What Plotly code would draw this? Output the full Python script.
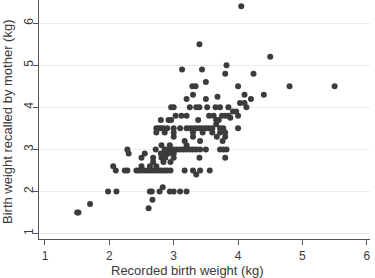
import plotly.graph_objects as go

# Rows of points grouped by recalled weight (kg)
rows_y = [6.4, 5.5, 5.2, 5.0, 4.9, 4.8, 4.6, 4.5, 4.3, 4.25, 4.2, 4.1, 4.0, 3.9, 3.8, 3.75, 3.7, 3.6,
          3.5, 3.4, 3.3, 3.2, 3.1, 3.0, 2.9, 2.8, 2.7, 2.6, 2.5, 2.4, 2.1, 2.0, 1.8, 1.7, 1.6, 1.5]
rows_x = [
    [4.05],
    [3.4],
    [4.5],
    [3.82],
    [3.13, 3.44],
    [3.8, 4.24],
    [3.5],
    [3.29, 3.34, 4.0, 4.8, 5.5],
    [3.3, 4.1, 4.4],
    [3.68],
    [3.2, 3.5, 4.2],
    [4.03, 4.1],
    [2.96, 3.0, 3.25, 3.35, 3.4, 3.52, 3.65, 3.72, 3.85, 4.13],
    [3.92, 3.97],
    [3.03, 3.12, 3.2, 3.55, 3.62, 3.75, 3.8, 3.85, 4.0],
    [3.88],
    [2.8, 2.92, 2.96, 3.38, 3.66, 3.7],
    [3.66],
    [2.73, 2.77, 2.8, 2.84, 2.9, 3.0, 3.1, 3.2, 3.25, 3.3, 3.35, 3.4, 3.45, 3.5, 3.55, 3.6, 3.72, 3.77, 4.0],
    [2.73, 2.86, 3.0, 3.3, 3.45, 3.6, 3.72, 3.8],
    [3.0, 3.3, 3.67, 3.8],
    [3.17, 3.41, 3.76],
    [2.81, 2.94, 3.2],
    [2.28, 2.72, 2.86, 2.9, 2.95, 3.0, 3.05, 3.1, 3.15, 3.2, 3.25, 3.3, 3.35, 3.41, 3.5, 3.72, 3.77, 3.82],
    [2.3, 2.55, 2.8, 2.87, 2.92, 3.0],
    [2.5, 2.68, 2.81, 2.87, 3.0, 3.4, 3.8],
    [2.68, 2.84, 2.95],
    [2.06, 2.5, 2.63, 2.73],
    [2.1, 2.24, 2.28, 2.42, 2.46, 2.5, 2.55, 2.6, 2.64, 2.68, 2.72, 2.77, 2.81, 2.86, 2.9, 2.95,
     3.17, 3.3, 3.41, 3.56],
    [3.35],
    [2.83],
    [1.98, 2.11, 2.63, 2.66, 2.78, 2.94, 3.0, 3.1, 3.2],
    [2.67],
    [1.7],
    [2.61],
    [1.5, 1.52],
]

recorded = []
recalled = []
for yv, xs in zip(rows_y, rows_x):
    for xv in xs:
        recorded.append(xv)
        recalled.append(yv)

tick_vals = [1, 2, 3, 4, 5, 6]
tick_text = ["1", "2", "3", "4", "5", "6"]
x_title = "Recorded birth weight (kg)"
y_title = "Birth weight recalled by mother (kg)"

font_family = "Liberation Sans, Arial, sans-serif"
text_color = "#3a3a3a"
axis_color = "#555555"

W, H = 375, 278
ML, MR, MT, MB = 39, 5, 0, 39

fig = go.Figure()
fig.add_trace(go.Scatter(
    x=recorded, y=recalled, mode="markers",
    marker=dict(size=6, color="#3c3c3c", line=dict(width=0)),
    showlegend=False,
))

fig.update_layout(
    width=W, height=H,
    margin=dict(l=ML, r=MR, t=MT, b=MB, autoexpand=False),
    paper_bgcolor="white", plot_bgcolor="white",
    font=dict(family=font_family, color=text_color, size=12),
)
fig.update_xaxes(
    range=[0.907, 6.05], tickvals=tick_vals, ticktext=tick_text,
    showgrid=False, zeroline=False, automargin=False,
    showline=True, linecolor=axis_color, linewidth=1,
    ticks="outside", ticklen=5, tickcolor=axis_color,
    ticklabelstandoff=1,
    tickfont=dict(size=12, color=text_color),
)
fig.update_yaxes(
    range=[0.87, 6.55], tickvals=tick_vals, ticktext=tick_text,
    showgrid=True, gridcolor="#ececec", gridwidth=1, zeroline=False, automargin=False,
    showline=True, linecolor=axis_color, linewidth=1,
    ticks="outside", ticklen=5, tickcolor=axis_color, tickangle=-90,
    ticklabelstandoff=-5,
    tickfont=dict(size=12, color=text_color),
)

plot_h = H - MT - MB
plot_w = W - ML - MR
fig.add_annotation(
    text=x_title, xref="paper", yref="paper",
    x=(187 - ML) / plot_w, y=-(270 - MT - plot_h) / plot_h,
    xanchor="center", yanchor="middle", showarrow=False,
    font=dict(size=13, color=text_color, family=font_family),
)
fig.add_annotation(
    text=y_title, xref="paper", yref="paper",
    x=-(ML - 7) / plot_w, y=1 - (122 - MT) / plot_h,
    xanchor="center", yanchor="middle", showarrow=False, textangle=-90,
    font=dict(size=13, color=text_color, family=font_family),
)

fig.write_html(
    "out.html",
    config={"displayModeBar": False},
    post_script="document.body.style.margin='0';document.body.style.overflow='hidden';",
)
